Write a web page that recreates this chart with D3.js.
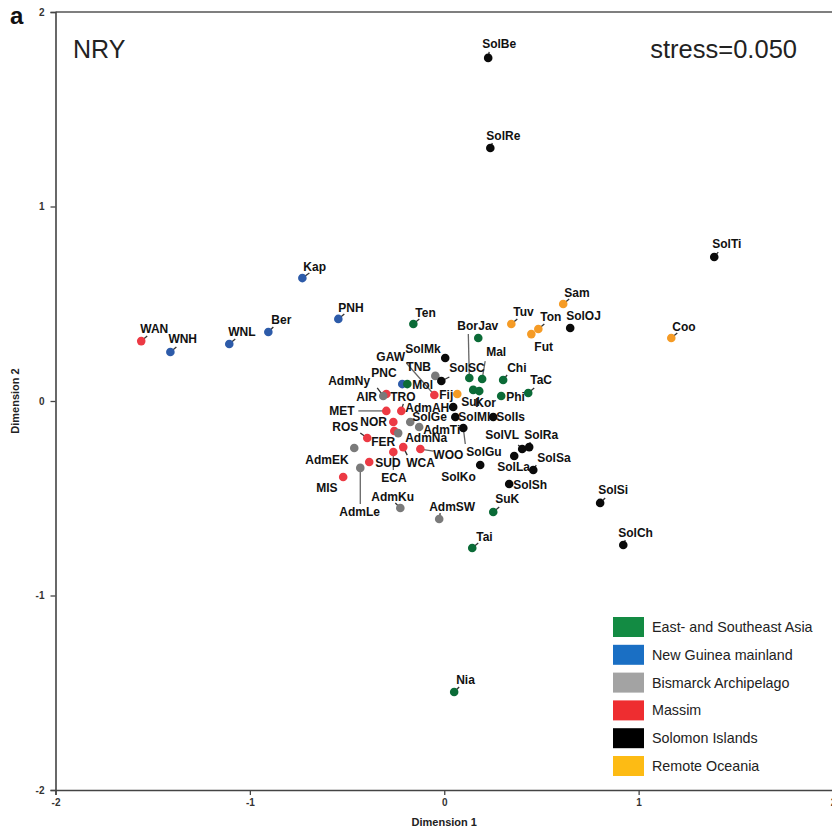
<!DOCTYPE html>
<html>
<head>
<meta charset="utf-8">
<script src="https://cdn.jsdelivr.net/npm/d3@7"></script>
<style>
  body { margin: 0; background: #fff; }
  text { font-family: Arial, "Liberation Sans", sans-serif; }
</style>
</head>
<body>
<svg id="chart" width="832" height="833"></svg>
<script>
// regions (legend order)
var regions = ["East- and Southeast Asia", "New Guinea mainland", "Bismarck Archipelago",
               "Massim", "Solomon Islands", "Remote Oceania"];
var legendColors = ["#138b43", "#1a6fc4", "#a3a3a3", "#ee2d30", "#000000", "#fdbb14"];
var dotColors    = ["#0b6b37", "#2d5ba9", "#7a7a7a", "#ec3a44", "#0a0a0a", "#f59b25"];

var axisTicks = [-2, -1, 0, 1, 2];

// populations: name, region index, dimension 1, dimension 2
var sites  = ["WAN","WNH","WNL","Ber","Kap","PNH","PNC",
              "GAW","AIR","TRO","MET","NOR","FER","ROS","ECA","WCA","WOO","SUD","MIS",
              "AdmNy","TNB","AdmAH","AdmTi","AdmNa","AdmEK","AdmLe","AdmKu","AdmSW",
              "SolBe","SolRe","SolTi","SolOJ","SolMk","SolSC","SolGe","SolMl","SolIs","SolGu",
              "SolKo","SolLa","SolVL","SolRa","SolSa","SolSh","SolSi","SolCh",
              "Sam","Tuv","Ton","Fut","Coo","Fij",
              "Ten","Jav","Bor","Mal","Chi","Sul","Kor","Phi","TaC","Mol","SuK","Tai","Nia"];
var region = [3,1,1,1,1,1,1,
              3,3,3,3,3,3,3,3,3,3,3,3,
              2,2,2,2,2,2,2,2,2,
              4,4,4,4,4,4,4,4,4,4,
              4,4,4,4,4,4,4,4,
              5,5,5,5,5,5,
              0,0,0,0,0,0,0,0,0,0,0,0,0];
var dim1 = [-1.559,-1.409,-1.106,-0.905,-0.730,-0.545,-0.216,
            -0.051,-0.298,-0.221,-0.298,-0.262,-0.257,-0.396,-0.262,-0.211,-0.123,-0.386,-0.520,
            -0.314,-0.046,-0.175,-0.129,-0.237,-0.463,-0.432,-0.226,-0.026,
            0.226,0.237,1.389,0.648,0.005,-0.015,0.046,0.057,0.252,0.098,
            0.185,0.360,0.401,0.437,0.458,0.334,0.802,0.921,
            0.612,0.345,0.484,0.448,1.168,0.067,
            -0.159,0.175,0.129,0.195,0.303,0.149,0.180,0.293,0.432,-0.190,0.252,0.144,0.051];
var dim2 = [0.308,0.252,0.293,0.355,0.632,0.422,0.087,
            0.031,0.036,-0.051,-0.051,-0.108,-0.154,-0.190,-0.262,-0.237,-0.247,-0.314,-0.391,
            0.026,0.129,-0.108,-0.134,-0.165,-0.242,-0.344,-0.550,-0.607,
            1.764,1.301,0.740,0.375,0.221,0.103,-0.031,-0.082,-0.082,-0.139,
            -0.329,-0.283,-0.247,-0.237,-0.355,-0.427,-0.524,-0.740,
            0.499,0.396,0.370,0.344,0.324,0.036,
            0.396,0.324,0.118,0.113,0.108,0.057,0.051,0.026,0.041,0.087,-0.571,-0.756,-1.496];

// label placement (px from dot): text dx, dy, optional leader end
var labelPlace = {
  WAN:[-1,-8,[6,-5]], WNH:[-2,-9,[6,-5]], WNL:[-1,-8,[6,-5]], Ber:[3,-8,[5,-5]],
  Kap:[1,-7,[7,-5]], PNH:[0,-7,[6,-5]], PNC:[-31,-7],
  GAW:[-58,-34,[-28,-32]], AIR:[-30,7], TRO:[-11,-10,[2,-7]], MET:[-57,4,[-28,0]],
  NOR:[-33,4], FER:[-23,15], ROS:[-35,-7,[-7,-5]], ECA:[-12,30,[0,18]],
  WCA:[3,20,[4,8]], WOO:[13,10,[13,2]], SUD:[6,5], MIS:[-27,15],
  AdmNy:[-55,-11,[-6,-8]], TNB:[-29,-5], AdmAH:[-5,-10], AdmTi:[4,7], AdmNa:[7,9],
  AdmEK:[-49,16], AdmLe:[-21,48,[0,36]], AdmKu:[-29,-7,[-5,-5]], AdmSW:[-10,-8,[1,-6]],
  SolBe:[-6,-10,[1,-6]], SolRe:[-4,-8,[2,-5]], SolTi:[-2,-9,[4,-5]], SolOJ:[-4,-8],
  SolMk:[-40,-5], SolSC:[8,-9,[8,-4]], SolGe:[-41,14], SolMl:[3,4], SolIs:[3,4],
  SolGu:[3,28,[2,16]], SolKo:[-39,16], SolLa:[-17,15], SolVL:[-37,-10,[-4,-4]],
  SolRa:[-5,-8,[1,-5]], SolSa:[4,-8,[3,-5]], SolSh:[4,5], SolSi:[-2,-9,[5,-5]],
  SolCh:[-5,-8,[2,-5]],
  Sam:[1,-7,[6,-5]], Tuv:[2,-8,[6,-5]], Ton:[2,-8,[6,-5]], Fut:[3,17], Coo:[1,-7,[6,-5]], Fij:[-18,5],
  Ten:[2,-7,[6,-5]], Jav:[0,-8], Bor:[-12,-48,[-1,-44]], Mal:[4,-23,[3,-18]], Chi:[4,-8,[4,-5]],
  Sul:[-12,16], Kor:[-4,16], Phi:[5,5], TaC:[2,-9,[6,-5]], Mol:[5,5],
  SuK:[2,-9,[6,-5]], Tai:[4,-7,[6,-5]], Nia:[2,-8,[5,-5]]
};

var points = sites.map(function(s, i) {
  return {name: s, g: region[i], x: dim1[i], y: dim2[i]};
});

var svg = d3.select("#chart");

var x = d3.scaleLinear().domain([-2, 2]).range([55.5, 833]);
var y = d3.scaleLinear().domain([-2, 2]).range([790, 12]);

// frame (top and right)
svg.append("path")
    .attr("d", "M" + x(-2) + "," + y(2) + "H" + x(2) + "V" + y(-2))
    .attr("fill", "none")
    .style("stroke", "#555")
    .style("stroke-width", 1.3);

var fmt = function(d) { return String(d); };   // plain hyphen minus like the original

var xAxis = svg.append("g")
    .attr("transform", "translate(0," + y(-2) + ")")
    .call(d3.axisBottom(x).tickValues(axisTicks).tickSize(5).tickPadding(4).tickFormat(fmt));
var yAxis = svg.append("g")
    .attr("transform", "translate(" + x(-2) + ",0)")
    .call(d3.axisLeft(y).tickValues(axisTicks).tickSize(5).tickPadding(6).tickFormat(fmt));

[xAxis, yAxis].forEach(function(a) {
  a.select(".domain").style("stroke", "#444").style("stroke-width", 1.6);
  a.selectAll(".tick line").style("stroke", "#444").style("stroke-width", 1.3);
  a.selectAll(".tick text")
      .style("font-family", "Arial, 'Liberation Sans', sans-serif")
      .style("font-size", "10px")
      .style("font-weight", "bold")
      .style("fill", "#333");
});

svg.append("text")
    .text("Dimension 1")
    .attr("x", x(0))
    .attr("y", 826)
    .attr("text-anchor", "middle")
    .style("font-size", "11px")
    .style("font-weight", "bold")
    .style("fill", "#222");

svg.append("text")
    .text("Dimension 2")
    .attr("transform", "translate(19," + y(0) + ") rotate(-90)")
    .attr("text-anchor", "middle")
    .style("font-size", "11px")
    .style("font-weight", "bold")
    .style("fill", "#222");

svg.append("text")
    .text("a")
    .attr("x", 10)
    .attr("y", 24)
    .style("font-size", "24px")
    .style("font-weight", "bold")
    .style("fill", "#111");

svg.append("text")
    .text("NRY")
    .attr("x", 73)
    .attr("y", 58)
    .style("font-size", "25px")
    .style("fill", "#222");

svg.append("text")
    .text("stress=0.050")
    .attr("x", 797)
    .attr("y", 58)
    .attr("text-anchor", "end")
    .style("font-size", "25.5px")
    .style("fill", "#222");

// leader lines
var leaders = points.filter(function(d) { return labelPlace[d.name] && labelPlace[d.name][2]; });
svg.append("g").selectAll("line")
    .data(leaders)
    .join("line")
    .attr("x1", function(d) { return x(d.x); })
    .attr("y1", function(d) { return y(d.y); })
    .attr("x2", function(d) { return x(d.x) + labelPlace[d.name][2][0]; })
    .attr("y2", function(d) { return y(d.y) + labelPlace[d.name][2][1]; })
    .style("stroke", function(d) {
      var l = labelPlace[d.name][2];
      return Math.abs(l[0]) + Math.abs(l[1]) > 14 ? "#666" : "#333";
    })
    .style("stroke-width", 1.3);

// dots
svg.append("g").selectAll("circle")
    .data(points)
    .join("circle")
    .attr("cx", function(d) { return x(d.x); })
    .attr("cy", function(d) { return y(d.y); })
    .attr("r", 4.3)
    .attr("fill", function(d) { return dotColors[d.g]; });

// labels
svg.append("g").selectAll("text")
    .data(points)
    .join("text")
    .text(function(d) { return d.name; })
    .attr("x", function(d) { return x(d.x) + labelPlace[d.name][0]; })
    .attr("y", function(d) { return y(d.y) + labelPlace[d.name][1]; })
    .style("font-size", "12px")
    .style("font-weight", "bold")
    .style("fill", "#111");

// legend
var legend = svg.append("g").attr("transform", "translate(613,617)");
var rows = legend.selectAll("g")
    .data(regions)
    .join("g")
    .attr("transform", function(d, i) { return "translate(0," + (i * 27.8) + ")"; });
rows.append("rect")
    .attr("width", 31)
    .attr("height", 20)
    .attr("fill", function(d, i) { return legendColors[i]; });
rows.append("text")
    .text(function(d) { return d; })
    .attr("x", 39)
    .attr("y", 15)
    .style("font-size", "14.3px")
    .style("fill", "#222");
</script>
</body>
</html>
